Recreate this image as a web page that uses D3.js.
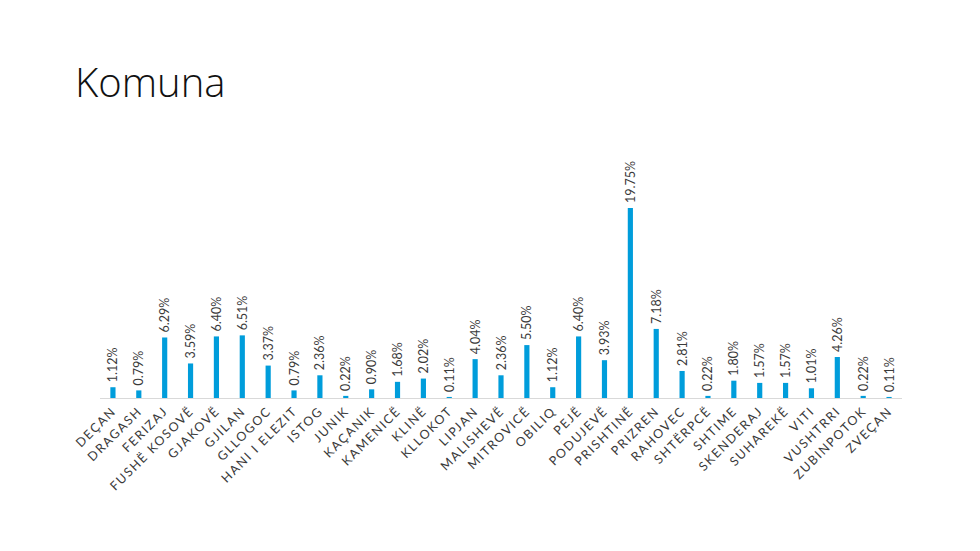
<!DOCTYPE html>
<html>
<head>
<meta charset="utf-8">
<script src="https://cdn.jsdelivr.net/npm/d3@7"></script>
<style>
  body { margin: 0; background: #fff; }
  .title { font-family: "Open Sans", sans-serif; font-weight: 300; font-size: 40px; fill: #111; }
  .cat { font-family: "Lato", sans-serif; font-size: 12.5px; fill: #3a3a3a; letter-spacing: 1.6px; }
  .val { font-family: "Lato", sans-serif; font-size: 12.5px; fill: #3a3a3a; }
</style>
</head>
<body>
<svg id="chart" width="980" height="551"></svg>
<script>
// categories and percentages
var komunat = ["DEÇAN", "DRAGASH", "FERIZAJ", "FUSHË KOSOVË", "GJAKOVË", "GJILAN", "GLLOGOC",
    "HANI I ELEZIT", "ISTOG", "JUNIK", "KAÇANIK", "KAMENICË", "KLINË", "KLLOKOT", "LIPJAN",
    "MALISHEVË", "MITROVICË", "OBILIQ", "PEJË", "PODUJEVË", "PRISHTINË", "PRIZREN", "RAHOVEC",
    "SHTËRPCË", "SHTIME", "SKENDERAJ", "SUHAREKË", "VITI", "VUSHTRRI", "ZUBINPOTOK", "ZVEÇAN"];
var perqindjet = [1.12, 0.79, 6.29, 3.59, 6.40, 6.51, 3.37, 0.79, 2.36, 0.22, 0.90, 1.68, 2.02,
    0.11, 4.04, 2.36, 5.50, 1.12, 6.40, 3.93, 19.75, 7.18, 2.81, 0.22, 1.80, 1.57, 1.57, 1.01,
    4.26, 0.22, 0.11];

var svg = d3.select("#chart");
var margin = {left: 100, right: 78, top: 200, baseline: 398};

svg.append("text")
    .attr("class", "title")
    .attr("x", 75)
    .attr("y", 97)
    .text("Komuna");

var data = komunat.map(function(k, i) { return {name: k, value: perqindjet[i]}; });

var xScale = d3.scaleBand()
    .domain(komunat)
    .range([margin.left, 980 - margin.right])
    .paddingInner(0.8)
    .paddingOuter(0.4);

var yScale = d3.scaleLinear()
    .domain([0, 20])
    .range([margin.baseline, margin.baseline - 192.4]);

// bars
svg.selectAll("rect.bar").data(data).enter().append("rect")
    .attr("class", "bar")
    .attr("x", function(d) { return xScale(d.name); })
    .attr("width", xScale.bandwidth())
    .attr("y", function(d) { return yScale(d.value); })
    .attr("height", function(d) { return yScale(0) - yScale(d.value); })
    .attr("fill", "#009ddb");

// baseline
svg.append("line")
    .attr("x1", margin.left)
    .attr("x2", 980 - margin.right)
    .attr("y1", margin.baseline + 0.5)
    .attr("y2", margin.baseline + 0.5)
    .attr("stroke", "#d9d9d9")
    .attr("stroke-width", 1);

// value labels, vertical
svg.selectAll("text.val").data(data).enter().append("text")
    .attr("class", "val")
    .attr("transform", function(d) {
        var cx = xScale(d.name) + xScale.bandwidth() / 2 + 4.5;
        return "translate(" + cx + "," + (yScale(d.value) - 5) + ") rotate(-90)";
    })
    .attr("text-anchor", "start")
    .text(function(d) { return d.value.toFixed(2) + "%"; });

// category labels, rotated 45
svg.selectAll("text.cat").data(data).enter().append("text")
    .attr("class", "cat")
    .attr("transform", function(d) {
        var cx = xScale(d.name) + xScale.bandwidth() / 2 + 4;
        return "translate(" + cx + "," + (margin.baseline + 14) + ") rotate(-45)";
    })
    .attr("text-anchor", "end")
    .text(function(d) { return d.name; });
</script>
</body>
</html>
